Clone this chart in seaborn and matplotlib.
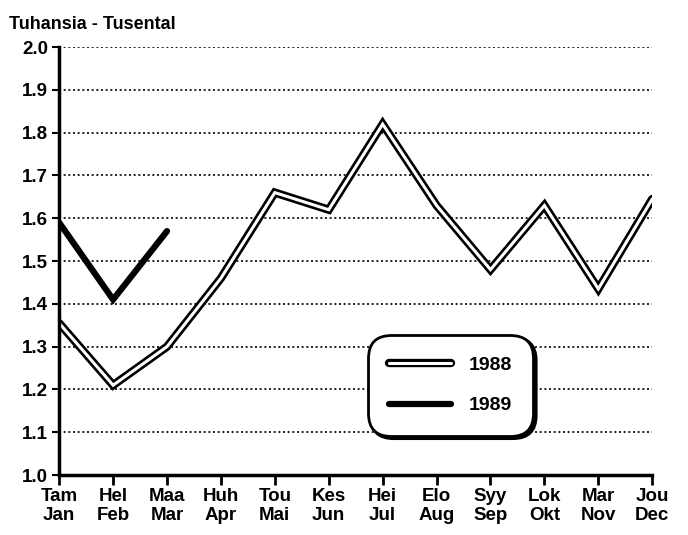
import pandas as pd
import matplotlib.pyplot as plt
import matplotlib.patheffects as pe
import seaborn as sns

# Month labels (Finnish / Swedish)
fi_months = ['Tam', 'Hel', 'Maa', 'Huh', 'Tou', 'Kes', 'Hei', 'Elo', 'Syy', 'Lok', 'Mar', 'Jou']
sv_months = ['Jan', 'Feb', 'Mar', 'Apr', 'Mai', 'Jun', 'Jul', 'Aug', 'Sep', 'Okt', 'Nov', 'Dec']

# Values (thousands)
vals_1988 = [1.355, 1.21, 1.30, 1.46, 1.66, 1.62, 1.82, 1.63, 1.48, 1.63, 1.435, 1.645]
vals_1989 = [1.59, 1.41, 1.57]

df88 = pd.DataFrame({'month': range(len(vals_1988)), 'value': vals_1988})
df89 = pd.DataFrame({'month': range(len(vals_1989)), 'value': vals_1989})

sns.set_style('white')
plt.rcParams['font.family'] = ['Liberation Sans', 'DejaVu Sans']
plt.rcParams['font.weight'] = 'bold'
plt.rcParams['text.color'] = 'black'
plt.rcParams['xtick.color'] = 'black'
plt.rcParams['ytick.color'] = 'black'

fig = plt.figure(figsize=(6.88, 5.35), dpi=100)
ax = fig.add_axes([0.086, 0.112, 0.862, 0.8])

# 1988: black outline with white centre
sns.lineplot(data=df88, x='month', y='value', ax=ax, color='white', linewidth=2.2,
             label='1988', solid_joinstyle='miter',
             path_effects=[pe.Stroke(linewidth=6, foreground='black'), pe.Normal()])
# 1989: thick solid black
sns.lineplot(data=df89, x='month', y='value', ax=ax, color='black', linewidth=4.5,
             label='1989', solid_joinstyle='miter')

ax.set_xlim(0, 11)
ax.set_ylim(1.0, 2.0)
ax.set_yticks([1.0 + i / 10 for i in range(11)])
ax.set_yticklabels([f'{1.0 + i / 10:.1f}' for i in range(11)])
ax.set_xticks(range(12))
ax.set_xticklabels([f'{a}\n{b}' for a, b in zip(fi_months, sv_months)], linespacing=1.15)
ax.set_xlabel('')
ax.set_ylabel('')

for y in [1.0 + i / 10 for i in range(1, 11)]:
    ax.axhline(y, color='black', linestyle=(0, (1.2, 1.6)), linewidth=1.2, zorder=0)

for side in ['top', 'right']:
    ax.spines[side].set_visible(False)
for side in ['left', 'bottom']:
    ax.spines[side].set_linewidth(2.5)
    ax.spines[side].set_color('black')

ax.tick_params(axis='x', direction='out', length=7, width=2, labelsize=13.5, pad=2, colors='black')
ax.tick_params(axis='y', direction='out', length=5, width=1.5, labelsize=13.5, pad=3, colors='black')
ax.tick_params(axis='both', which='both', bottom=True, left=True)

fig.text(0.013, 0.955, 'Tuhansia - Tusental', fontsize=13, fontweight='bold',
         color='black', ha='left', va='center')

leg = ax.legend(loc='center left', bbox_to_anchor=(0.52, 0.21), frameon=True, fancybox=True,
                shadow={'color': 'black', 'alpha': 1.0}, fontsize=14, handlelength=3.2,
                borderpad=1.1, labelspacing=1.2, handletextpad=0.9, borderaxespad=0)
for t in leg.get_texts():
    t.set_color('black')
frame = leg.get_frame()
frame.set_edgecolor('black')
frame.set_linewidth(2)
frame.set_facecolor('white')
frame.set_alpha(1.0)
frame.set_boxstyle('round', pad=0, rounding_size=1.2)

fig.savefig('out.png', dpi=100)
